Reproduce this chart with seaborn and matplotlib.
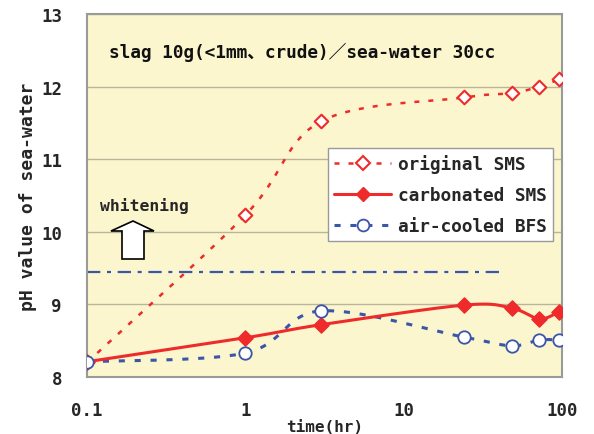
import numpy as np
import matplotlib
matplotlib.use("Agg")
import matplotlib.pyplot as plt
import seaborn as sns
from matplotlib.lines import Line2D
from matplotlib.patches import Polygon

# ---- data ----
time_hr = [0.1, 1, 3, 24, 48, 72, 96]
original_sms = [8.2, 10.23, 11.52, 11.85, 11.91, 12.0, 12.1]
carbonated_sms = [8.21, 8.54, 8.72, 8.99, 8.95, 8.80, 8.90]
aircooled_bfs = [8.21, 8.33, 8.91, 8.55, 8.43, 8.51, 8.51]
whitening_level = 9.45
whitening_x = [0.1, 42]
series_labels = ["original SMS", "carbonated SMS", "air-cooled BFS"]
title_text = "slag 10g(<1mm、crude)／sea-water 30cc"

sns.set_style("white")
plt.rcParams['font.family'] = ['DejaVu Sans Mono', 'Noto Sans CJK JP']

RED = '#EE2A2A'
BLUE = '#3B55A8'
BG = '#FBF6CE'
LS_ORIG = (0, (2.0, 3.6))
LS_BFS = (0, (2.0, 3.2))

W, H = 594, 435
fig = plt.figure(figsize=(W / 100, H / 100), dpi=100)
L, R, T, B = 87, 562, 15, 378
ax = fig.add_axes([L / W, 1 - B / H, (R - L) / W, (B - T) / H])
ax.set_facecolor(BG)

XS = (R - L) / 3.0   # px per decade
YS = (B - T) / 5.0   # px per pH unit


def smooth(xs, ys, n=60):
    u = np.log10(np.asarray(xs, float)) * XS
    v = np.asarray(ys, float) * YS
    P = np.column_stack([u, v])
    out = []
    m = len(P)
    for i in range(m - 1):
        p0 = P[i - 1] if i > 0 else P[i]
        p1 = P[i]
        p2 = P[i + 1]
        p3 = P[i + 2] if i + 2 < m else P[i + 1]
        c1 = p1 + (p2 - p0) / 6.0
        c2 = p2 - (p3 - p1) / 6.0
        t = np.linspace(0, 1, n)[:, None]
        seg = ((1 - t) ** 3) * p1 + 3 * ((1 - t) ** 2) * t * c1 + 3 * (1 - t) * t ** 2 * c2 + t ** 3 * p2
        out.append(seg if i == 0 else seg[1:])
    S = np.vstack(out)
    return 10 ** (S[:, 0] / XS), S[:, 1] / YS


ax.set_xscale('log')
ax.set_xlim(0.1, 100)
ax.set_ylim(8, 13)

# gridlines
ax.set_yticks([8, 9, 10, 11, 12, 13])
ax.yaxis.grid(True, color='#B9B49A', linewidth=1.0)
ax.xaxis.grid(False)
ax.set_axisbelow(True)

# whitening threshold
sns.lineplot(x=whitening_x, y=[whitening_level] * 2, ax=ax, color=BLUE, linewidth=1.6,
             linestyle=(0, (6, 3, 1.8, 3)), estimator=None, sort=False)

# smoothed curves
sx, sy = smooth(time_hr, original_sms)
sns.lineplot(x=sx, y=sy, ax=ax, color=RED, linewidth=1.8, linestyle=LS_ORIG,
             estimator=None, sort=False)
sx, sy = smooth(time_hr, aircooled_bfs)
sns.lineplot(x=sx, y=sy, ax=ax, color=BLUE, linewidth=2.2, linestyle=LS_BFS,
             estimator=None, sort=False)
sx, sy = smooth(time_hr, carbonated_sms)
sns.lineplot(x=sx, y=sy, ax=ax, color=RED, linewidth=2.2, estimator=None, sort=False)

# markers
sns.scatterplot(x=time_hr, y=original_sms, ax=ax, marker='D', s=48, facecolor='white',
                edgecolor=RED, linewidth=1.5, zorder=5)
sns.scatterplot(x=time_hr, y=carbonated_sms, ax=ax, marker='D', s=60, color=RED,
                edgecolor=RED, linewidth=1.0, zorder=5)
sns.scatterplot(x=time_hr, y=aircooled_bfs, ax=ax, marker='o', s=80, facecolor='white',
                edgecolor=BLUE, linewidth=1.3, zorder=6)

# ticks
ax.set_xticks([0.1, 1, 10, 100])
ax.set_xticklabels(['0.1', '1', '10', '100'])
ax.minorticks_off()
ax.tick_params(axis='x', direction='in', length=7, width=1, color='#999999', pad=17,
               labelsize=12.5)
ax.tick_params(axis='y', length=0, pad=18, labelsize=12.5)
for lab in ax.get_xticklabels() + ax.get_yticklabels():
    lab.set_fontweight('bold')

for sp in ax.spines.values():
    sp.set_color('#9A9A9A')
    sp.set_linewidth(1.5)

ax.set_xlabel('time(hr)', fontsize=11.5, fontweight='bold', labelpad=0)
ax.set_ylabel('pH value of sea-water', fontsize=13, fontweight='bold', labelpad=3)

# title text inside
ax.text((109 - L) / (R - L), (B - 52) / (B - T), title_text, transform=ax.transAxes,
        fontsize=12.8, va='center', ha='left', fontweight='bold', color='#111111')

# whitening text and arrow
ax.text((100 - L) / (R - L), (B - 206) / (B - T), 'whitening', transform=ax.transAxes,
        fontsize=11.8, va='center', ha='left', fontweight='bold')
arrow_px = [(133, 222), (154, 232), (144, 232), (144, 260), (122, 260), (122, 232), (111, 232)]
arrow_ax = [((px - L) / (R - L), (B - py) / (B - T)) for px, py in arrow_px]
ax.add_patch(Polygon(arrow_ax, closed=True, transform=ax.transAxes, facecolor='white',
                     edgecolor='black', linewidth=1.2, zorder=4))

# legend
handles = [
    Line2D([], [], color=RED, linewidth=1.8, linestyle=LS_ORIG, marker='D',
           markersize=7, markerfacecolor='white', markeredgecolor=RED, markeredgewidth=1.5),
    Line2D([], [], color=RED, linewidth=2.2, marker='D', markersize=7.5,
           markerfacecolor=RED, markeredgecolor=RED),
    Line2D([], [], color=BLUE, linewidth=2.2, linestyle=LS_BFS, marker='o',
           markersize=8.5, markerfacecolor='white', markeredgecolor=BLUE, markeredgewidth=1.3),
]
leg = ax.legend(handles, series_labels, loc='upper left',
                bbox_to_anchor=((328 - L) / (R - L), (B - 149) / (B - T)),
                borderaxespad=0, frameon=True, fancybox=False, framealpha=1,
                edgecolor='#9A9A9A', facecolor='white',
                prop={'size': 12.8, 'weight': 'bold'},
                handlelength=3.2, handletextpad=0.4, labelspacing=0.72, borderpad=0.35)
leg.get_frame().set_linewidth(1.0)

fig.savefig('out.png', dpi=100, facecolor='white')
